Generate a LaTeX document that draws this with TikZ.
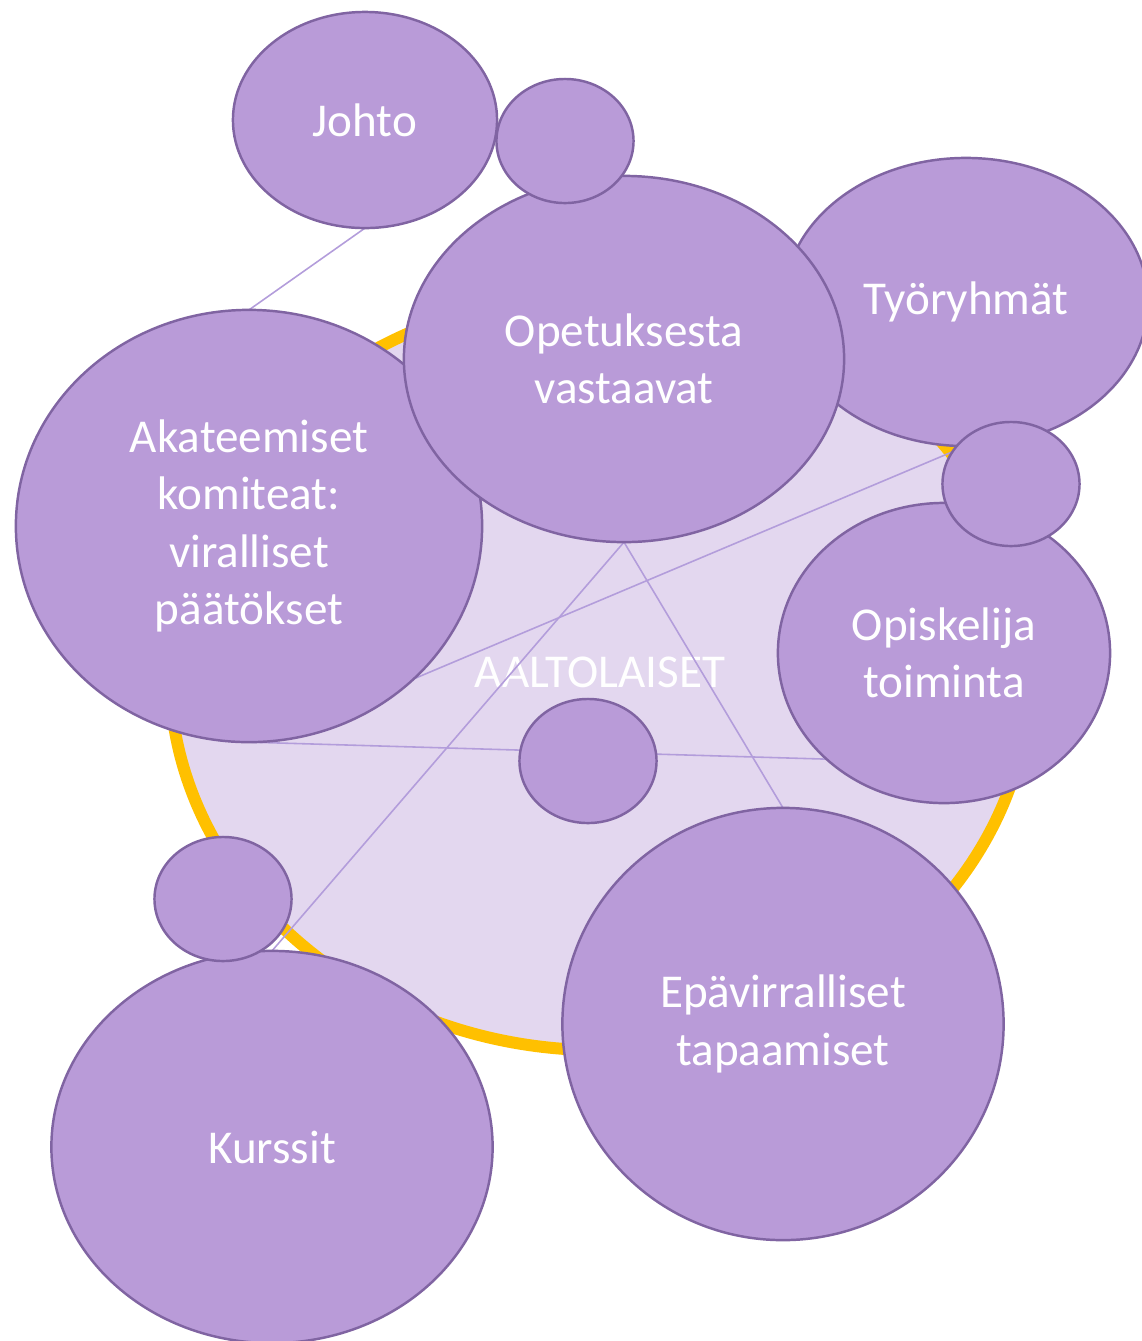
\documentclass[tikz,border=0pt]{standalone}
\usepackage{fontspec}
\setmainfont{Carlito}
\usetikzlibrary{shapes.geometric, positioning}

\definecolor{bubblefill}{HTML}{B99BD8}
\definecolor{bubbleline}{HTML}{8064A2}
\definecolor{crowdfill}{HTML}{E3D7EF}
\definecolor{crowdring}{HTML}{FFC000}
\definecolor{linkline}{HTML}{B39DDB}

\pgfdeclarelayer{back}
\pgfdeclarelayer{links}
\pgfsetlayers{back,links,main}

\begin{document}
\begin{tikzpicture}[x=0.01cm, y=-0.01cm,
    bubble/.style={ellipse, draw=bubbleline, line width=0.7pt, fill=bubblefill,
      text=white, inner sep=0pt, outer sep=0pt, align=center,
      font=\fontsize{13.4}{16.3}\selectfont},
    dot/.style={bubble, minimum width=1.37cm, minimum height=1.24cm},
    link/.style={draw=linkline, color=linkline, line width=0.45pt}]
  \useasboundingbox (0,0) rectangle (1142,1341);

  % Whole community
  \begin{pgfonlayer}{back}
    \node[bubble, draw=crowdring, fill=crowdfill, line width=3.4pt,
          minimum width=8.6cm, minimum height=7.56cm] (aalto) at (600,672) {AALTOLAISET};
  \end{pgfonlayer}

  % Bubbles
  \node[bubble, minimum width=3.64cm, minimum height=2.88cm] (tyo)   at (966,302)  {Työryhmät};
  \node[bubble, minimum width=4.66cm, minimum height=4.32cm] (akat)  at (249,526)  {Akateemiset\\komiteat:\\viralliset\\päätökset};
  \node[bubble, minimum width=4.40cm, minimum height=3.66cm] (opet)  at (624,359)  {Opetuksesta\\vastaavat};
  \node[bubble, minimum width=2.64cm, minimum height=2.16cm] (johto) at (365,120)  {Johto};
  \node[dot]                                                 (dotA)  at (565,141)  {};
  \node[bubble, minimum width=3.32cm, minimum height=3.00cm] (opis)  at (944,653)  {Opiskelija\\toiminta};
  \node[dot]                                                 (dotB)  at (1011,484) {};
  \node[bubble, minimum width=4.41cm, minimum height=3.92cm] (kurs)  at (272,1147) {Kurssit};
  \node[dot]                                                 (dotC)  at (223,899)  {};
  \node[bubble, minimum width=4.41cm, minimum height=4.32cm] (epav)  at (783,1024) {Epävirralliset\\tapaamiset};
  \node[dot]                                                 (dotD)  at (588,761)  {};

  % Links between bubbles
  \begin{pgfonlayer}{links}
    \path[link] (johto.south) edge (akat.north)
                (opet.south) edge (kurs.north)
                (opet.south) edge (epav.north)
                (akat.south east) edge (tyo.south)
                (akat.south) edge (opis.south west);
  \end{pgfonlayer}
\end{tikzpicture}
\end{document}
